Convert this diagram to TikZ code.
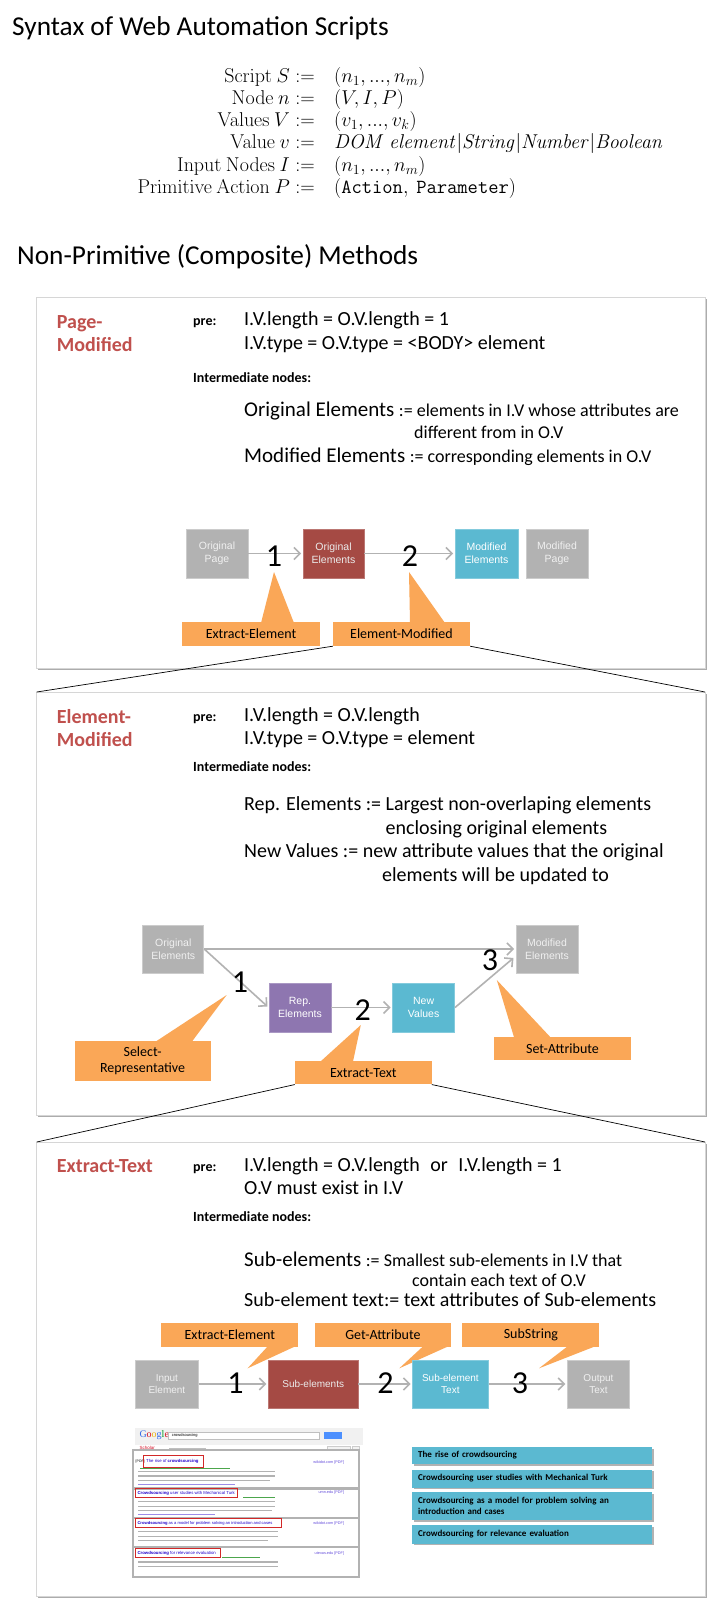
\RequirePackage{fix-cm}
\documentclass[tikz,border=0pt]{standalone}
\usepackage[no-math]{fontspec}
\setmainfont{Carlito}
\newfontfamily\hv{Liberation Sans}
\newfontfamily\gser{Liberation Serif}
\usetikzlibrary{arrows.meta,calc,shadows}
\definecolor{titlered}{RGB}{192,80,77}
\definecolor{callorange}{RGB}{250,167,87}
\definecolor{boxgray}{RGB}{178,178,178}
\definecolor{boxgrayb}{RGB}{204,204,204}
\definecolor{boxgrayt}{RGB}{240,240,240}
\definecolor{boxred}{RGB}{165,74,68}
\definecolor{boxblue}{RGB}{91,185,209}
\definecolor{boxpurple}{RGB}{142,118,176}
\definecolor{arrowgray}{RGB}{178,178,178}
\definecolor{panelborder}{RGB}{214,214,214}
\definecolor{panelshadow}{RGB}{172,172,172}
\definecolor{gblue}{RGB}{51,105,232}
\definecolor{gred}{RGB}{213,15,37}
\definecolor{gyellow}{RGB}{238,178,17}
\definecolor{ggreen}{RGB}{0,153,37}
\definecolor{gtitle}{RGB}{34,0,204}
\definecolor{gurl}{RGB}{0,128,0}
\definecolor{gbtn}{RGB}{77,144,254}
\definecolor{gbg}{RGB}{241,241,241}
\definecolor{redbox}{RGB}{210,40,40}
\tikzset{
  lbl/.style={inner sep=0pt, anchor=base west},
  big/.style={lbl, font=\fontsize{20}{24}\selectfont},
  mid/.style={lbl, font=\fontsize{18}{22}\selectfont},
  tag/.style={lbl, font=\bfseries\fontsize{14}{17}\selectfont},
  hd/.style={lbl, text=titlered, font=\bfseries\fontsize{20}{24}\selectfont},
  mth/.style={inner sep=0pt, font=\fontsize{20}{24}\selectfont},
  flowbox/.style={inner sep=0pt, align=center, line width=0.8pt, font=\hv\fontsize{10.5}{12.6}\selectfont},
  gbx/.style={flowbox, fill=boxgray, draw=boxgrayb, text=boxgrayt},
  rbx/.style={flowbox, fill=boxred, draw=boxred!75!white, text=white!92!black},
  bbx/.style={flowbox, fill=boxblue, draw=boxblue!75!white, text=white},
  pbx/.style={flowbox, fill=boxpurple, draw=boxpurple!75!white, text=white},
  arr/.style={draw=arrowgray, line width=1.6pt, shorten >=1.5pt, -{Straight Barb[length=6pt,width=12pt,line width=1.6pt]}},
  dig/.style={inner sep=0pt, font=\fontsize{32}{36}\selectfont},
  co/.style={fill=callorange, inner sep=0pt, align=center, font=\fontsize{14}{16.5}\selectfont},
  zl/.style={draw=black, line width=0.7pt},
  gsm/.style={inner sep=0pt, anchor=west, font=\hv\fontsize{4.3}{4.3}\selectfont},
  snip/.style={draw=black!30, line width=1.1pt},
  lbar/.style={fill=boxblue, anchor=north west, inner xsep=6.3pt, inner ysep=0pt, text width=227.7pt, align=left,
     font=\bfseries\fontsize{9}{10.6}\selectfont, drop shadow={shadow xshift=1.8pt, shadow yshift=-1.8pt, fill=black!30, opacity=1}},
}
\begin{document}
\begin{tikzpicture}[x=1pt,y=-1pt]
\fill[white] (0,0) rectangle (723,1614);
\useasboundingbox (0,0) rectangle (723,1614);

% ---------- title and syntax
\node[lbl, font=\fontsize{27.3}{31}\selectfont] (title) at (12,35) {Syntax of Web Automation Scripts};
\node[mth, anchor=base east] (m1l) at (315,82) {$\mathrm{Script}\ S :=$};
\node[mth, anchor=base west] (m1r) at (334,82) {$(n_1,...,n_m)$};
\node[mth, anchor=base east] (m2l) at (315,104) {$\mathrm{Node}\ n :=$};
\node[mth, anchor=base west] (m2r) at (334,104) {$(V,I,P)$};
\node[mth, anchor=base east] (m3l) at (315,126) {$\mathrm{Values}\ V :=$};
\node[mth, anchor=base west] (m3r) at (334,126) {$(v_1,...,v_k)$};
\node[mth, anchor=base east] (m4l) at (315,148) {$\mathrm{Value}\ v :=$};
\node[mth, anchor=base west] (m4r) at (334,148) {$\mathit{DOM\ element}|\mathit{String}|\mathit{Number}|\mathit{Boolean}$};
\node[mth, anchor=base east] (m5l) at (315,171) {$\mathrm{Input\ Nodes}\ I :=$};
\node[mth, anchor=base west] (m5r) at (334,171) {$(n_1,...,n_m)$};
\node[mth, anchor=base east] (m6l) at (315,193) {$\mathrm{Primitive\ Action}\ P :=$};
\node[mth, anchor=base west] (m6r) at (334,193) {$(\mathtt{Action,\ Parameter})$};

\node[lbl, font=\fontsize{27.3}{31}\selectfont] (sec) at (17,264) {Non-Primitive (Composite) Methods};

% ---------- panels
\foreach \t/\b in {297.7/668, 692/1115, 1142/1596} {
  \fill[panelshadow] (38.2,\t+1.5) rectangle (706.5,\b+1.5);
  \draw[panelborder, line width=0.8pt, fill=white] (36.7,\t) rectangle (705,\b);
}
\coordinate (p2nw) at (36.7,692);
\coordinate (p2ne) at (705,692);
\coordinate (p3nw) at (36.7,1142);
\coordinate (p3ne) at (705,1142);

% ---------- panel 1 : Page-Modified
\node[hd] (h1a) at (56.7,328) {Page-};
\node[hd] (h1b) at (56.7,351) {Modified};
\node[tag] (pre1) at (193,325) {pre:};
\node[big] (a1) at (244,325) {I.V.length = O.V.length = 1};
\node[big] (a2) at (244,349) {I.V.type = O.V.type = <BODY> element};
\node[tag] (in1) at (193,382) {Intermediate nodes:};
\node[big] (b1) at (244,416) {{\fontsize{21}{24}\selectfont Original Elements} {\fontsize{18}{22}\selectfont := elements in I.V whose attributes are}};
\node[mid] (b2) at (414,438) {different from in O.V};
\node[big] (b3) at (244,462) {{\fontsize{21}{24}\selectfont Modified Elements} {\fontsize{18}{22}\selectfont := corresponding elements in O.V}};

\node[gbx, minimum width=62pt, minimum height=49pt] (op) at (217,553.5) {Original\\Page};
\node[rbx, minimum width=61pt, minimum height=49pt] (oe) at (333.5,553.5) {Original\\Elements};
\node[bbx, minimum width=63pt, minimum height=49pt] (me) at (486.5,553.5) {Modified\\Elements};
\node[gbx, minimum width=62pt, minimum height=49pt] (mp) at (557,553.5) {Modified\\Page};
\draw[arr] (op) -- (oe);
\draw[arr] (oe) -- (me);
\node[dig] (d11) at (274,556) {1};
\node[dig] (d12) at (410,556) {2};
\node[co, minimum width=138pt, minimum height=24pt] (c11) at (251,634) {Extract-Element};
\fill[callorange] (261,623) -- (274,572) -- (294,623) -- cycle;
\node[co, minimum width=137pt, minimum height=24pt] (c12) at (401.5,634) {Element-Modified};
\fill[callorange] (410,623) -- (409,572) -- (445,623) -- cycle;
\draw[zl] (c12.south west) -- (p2nw);
\draw[zl] (c12.south east) -- (p2ne);

% ---------- panel 2 : Element-Modified
\node[hd] (h2a) at (56.7,723) {Element-};
\node[hd] (h2b) at (56.7,746) {Modified};
\node[tag] (pre2) at (193,721) {pre:};
\node[big] (e1) at (244,721) {I.V.length = O.V.length};
\node[big] (e2) at (244,744) {I.V.type = O.V.type = element};
\node[tag] (in2) at (193,771) {Intermediate nodes:};
\node[big] (f1) at (244,810) {Rep. Elements := Largest non-overlaping elements};
\node[big] (f2) at (385.5,834) {enclosing original elements};
\node[big] (f3) at (244,857) {New Values := new attribute values that the original};
\node[big] (f4) at (382,881) {elements will be updated to};

\node[gbx, minimum width=61pt, minimum height=48pt] (oe2) at (173.3,949) {Original\\Elements};
\node[gbx, minimum width=62pt, minimum height=48pt] (me2) at (547,949) {Modified\\Elements};
\node[pbx, minimum width=62pt, minimum height=49pt] (re2) at (300,1007.5) {Rep.\\Elements};
\node[bbx, minimum width=62pt, minimum height=49pt] (nv2) at (423.6,1007.5) {New\\Values};
\draw[arr] (oe2.east) -- (me2.west);
\draw[arr] (oe2.east) -- (re2.west);
\draw[arr] (re2) -- (nv2);
\draw[arr] (nv2.east) -- ($(me2.west)+(-1,8)$);
\node[dig] (d21) at (240,981.7) {1};
\node[dig] (d22) at (362.7,1010) {2};
\node[dig] (d23) at (490,960) {3};
\node[co, minimum width=136pt, minimum height=40pt] (c21) at (142.6,1060.8) {Select-\\Representative};
\fill[callorange] (155.8,1041.5) -- (226.7,995) -- (192,1041.5) -- cycle;
\node[co, minimum width=136.6pt, minimum height=23.3pt] (c22) at (363.3,1072.7) {Extract-Text};
\fill[callorange] (320.5,1061.5) -- (360.8,1025) -- (353,1061.5) -- cycle;
\node[co, minimum width=137pt, minimum height=23.3pt] (c23) at (562.5,1048.3) {Set-Attribute};
\fill[callorange] (514,1037.2) -- (496.8,980) -- (550.4,1037.2) -- cycle;
\draw[zl] (c22.south west) -- (p3nw);
\draw[zl] (c22.south east) -- (p3ne);

% ---------- panel 3 : Extract-Text
\node[hd] (h3) at (56.7,1172) {Extract-Text};
\node[tag] (pre3) at (193,1171) {pre:};
\node[big] (g1) at (244,1171) {I.V.length = O.V.length\hspace{0.3em} or\hspace{0.3em} I.V.length = 1};
\node[big] (g2) at (244,1194) {O.V must exist in I.V};
\node[tag] (in3) at (193,1221) {Intermediate nodes:};
\node[big] (k1) at (244,1266) {{\fontsize{21}{24}\selectfont Sub-elements} {\fontsize{18}{22}\selectfont := Smallest sub-elements in I.V that}};
\node[mid] (k2) at (412,1286) {contain each text of O.V};
\node[big] (k3) at (244,1306) {Sub-element text:= text attributes of Sub-elements};

\node[co, minimum width=137pt, minimum height=23.7pt] (c31) at (229.9,1335) {Extract-Element};
\fill[callorange] (268,1346) -- (247.6,1368.3) -- (296,1346) -- cycle;
\node[co, minimum width=136.2pt, minimum height=23.7pt] (c32) at (382.9,1335) {Get-Attribute};
\fill[callorange] (423.4,1346) -- (399.3,1368.3) -- (449,1346) -- cycle;
\node[co, minimum width=137pt, minimum height=23.7pt] (c33) at (530.9,1335) {SubString};
\fill[callorange] (568,1346) -- (539,1368.3) -- (596,1346) -- cycle;

\node[gbx, minimum width=62.8pt, minimum height=48pt, font=\hv\fontsize{10}{12.3}\selectfont] (ie3) at (166.9,1384) {Input\\Element};
\node[rbx, minimum width=89.7pt, minimum height=48pt, font=\hv\fontsize{10}{12.3}\selectfont] (se3) at (313.2,1384) {Sub-elements};
\node[bbx, minimum width=75.9pt, minimum height=48pt, font=\hv\fontsize{10}{12.3}\selectfont] (st3) at (450.4,1384) {Sub-element\\Text};
\node[gbx, minimum width=62.5pt, minimum height=48pt, font=\hv\fontsize{10}{12.3}\selectfont] (ot3) at (598.5,1384) {Output\\Text};
\draw[arr] (ie3) -- (se3);
\draw[arr] (se3) -- (st3);
\draw[arr] (st3) -- (ot3);
\node[dig] (d31) at (235.5,1383) {1};
\node[dig] (d32) at (385.5,1383) {2};
\node[dig] (d33) at (520,1383) {3};

% ---------- Google Scholar screenshot
\fill[gbg] (135,1427.7) rectangle (362.7,1445);
\node[inner sep=0pt, anchor=west, font=\gser\fontsize{10}{10}\selectfont] (glogo) at (139.3,1435.5)
  {\textcolor{gblue}{G}\textcolor{gred}{o}\textcolor{gyellow}{o}\textcolor{gblue}{g}\textcolor{ggreen}{l}\textcolor{gred}{e}};
\node[draw=black!25, fill=white, minimum width=151pt, minimum height=7.6pt, inner sep=0pt, anchor=west] (gsearch) at (168.3,1435.5) {};
\node[inner sep=0pt, anchor=west, font=\hv\fontsize{4}{4}\selectfont] (gq) at (171.7,1435.5) {crowdsourcing};
\node[fill=gbtn, minimum width=18.4pt, minimum height=7.6pt, inner sep=0pt, anchor=west] (gbtn) at (323.3,1435.5) {};
\node[inner sep=0pt, anchor=west, font=\hv\fontsize{4.5}{4.5}\selectfont, text=gred] (gsch) at (139.3,1448.3) {Scholar};
\draw[black!25, line width=1.1pt] (169,1448.3) -- (206,1448.3);
\node[draw=black!20, fill=black!5, minimum width=22.7pt, minimum height=5.7pt, inner sep=0pt, anchor=west] (gany) at (327.3,1448.8) {};
\node[draw=black!20, fill=black!5, minimum width=7pt, minimum height=5.7pt, inner sep=0pt, anchor=west] (gany2) at (352,1448.8) {};
\draw[black!30, line width=2pt, fill=white] (133.3,1450) rectangle (359.3,1576.7);
\fill[black!30] (133.3,1487) rectangle (359.3,1489.5);
\fill[black!30] (133.3,1516.8) rectangle (359.3,1519);
\fill[black!30] (133.3,1546) rectangle (359.3,1548.2);
% result 1
\node[inner sep=0pt, anchor=west, font=\hv\fontsize{3.5}{3.5}\selectfont] (r1p) at (135.5,1461.3) {[PDF]};
\node[gsm, text=gtitle] (r1t) at (146,1461.3) {The rise of \textbf{crowdsourcing}};
\draw[redbox, line width=0.9pt] (143.3,1455.3) rectangle (203.3,1467.3);
\draw[gurl!70, line width=0.9pt] (140,1468.3) -- (230,1468.3);
\draw[snip] (138,1471.5) -- (275,1471.5);
\draw[snip] (138,1476) -- (275,1476);
\draw[snip] (138,1480.5) -- (270,1480.5);
\draw[gtitle!45, line width=1pt] (138,1484.5) -- (235,1484.5);
\node[gsm, anchor=east, font=\hv\fontsize{3.8}{3.8}\selectfont, text=gtitle!70] (r1s) at (344.3,1462.7) {wikidot.com [PDF]};
% result 2
\node[gsm, text=gtitle] (r2t) at (137.3,1493) {\textbf{Crowdsourcing} user studies with Mechanical Turk};
\draw[redbox, line width=0.9pt] (135,1488.3) rectangle (237.3,1497.3);
\draw[gurl!70, line width=0.9pt] (243,1497.8) -- (275,1497.8);
\draw[snip] (138,1501.7) -- (275,1501.7);
\draw[snip] (138,1506.2) -- (275,1506.2);
\draw[snip] (138,1510.7) -- (272,1510.7);
\draw[gtitle!45, line width=1pt] (138,1514.8) -- (215,1514.8);
\node[gsm, anchor=east, font=\hv\fontsize{3.8}{3.8}\selectfont, text=gtitle!70] (r2s) at (344.3,1492.7) {umn.edu [PDF]};
% result 3
\node[gsm, text=gtitle, font=\hv\fontsize{4.1}{4.1}\selectfont] (r3t) at (137.3,1523) {\textbf{Crowdsourcing} as a model for problem solving an introduction and cases};
\draw[redbox, line width=0.9pt] (135,1518.3) rectangle (281.7,1527.7);
\draw[snip] (138,1531.7) -- (278,1531.7);
\draw[snip] (138,1536.2) -- (278,1536.2);
\draw[snip] (138,1540.7) -- (268,1540.7);
\node[gsm, anchor=east, font=\hv\fontsize{3.8}{3.8}\selectfont, text=gtitle!70] (r3s) at (344.3,1523.3) {wikidot.com [PDF]};
% result 4
\node[gsm, text=gtitle] (r4t) at (137.3,1553) {\textbf{Crowdsourcing} for relevance evaluation};
\draw[redbox, line width=0.9pt] (135,1548.3) rectangle (220,1557.3);
\draw[gurl!70, line width=0.9pt] (222,1557.8) -- (260,1557.8);
\draw[snip] (138,1562) -- (278,1562);
\draw[snip] (138,1566.3) -- (278,1566.3);
\node[gsm, anchor=east, font=\hv\fontsize{3.8}{3.8}\selectfont, text=gtitle!70] (r4s) at (344.3,1553.3) {utexas.edu [PDF]};

% ---------- extracted text list
\node[lbar, minimum height=17.3pt] (l1) at (411.7,1446.7) {The rise of crowdsourcing};
\node[lbar, minimum height=18pt] (l2) at (411.7,1469.3) {Crowdsourcing user studies with Mechanical Turk};
\node[lbar, minimum height=28.3pt] (l3) at (411.7,1491.7) {Crowdsourcing as a model for problem solving an\\introduction and cases};
\node[lbar, minimum height=18.3pt] (l4) at (411.7,1525) {Crowdsourcing for relevance evaluation};
\end{tikzpicture}
\end{document}
